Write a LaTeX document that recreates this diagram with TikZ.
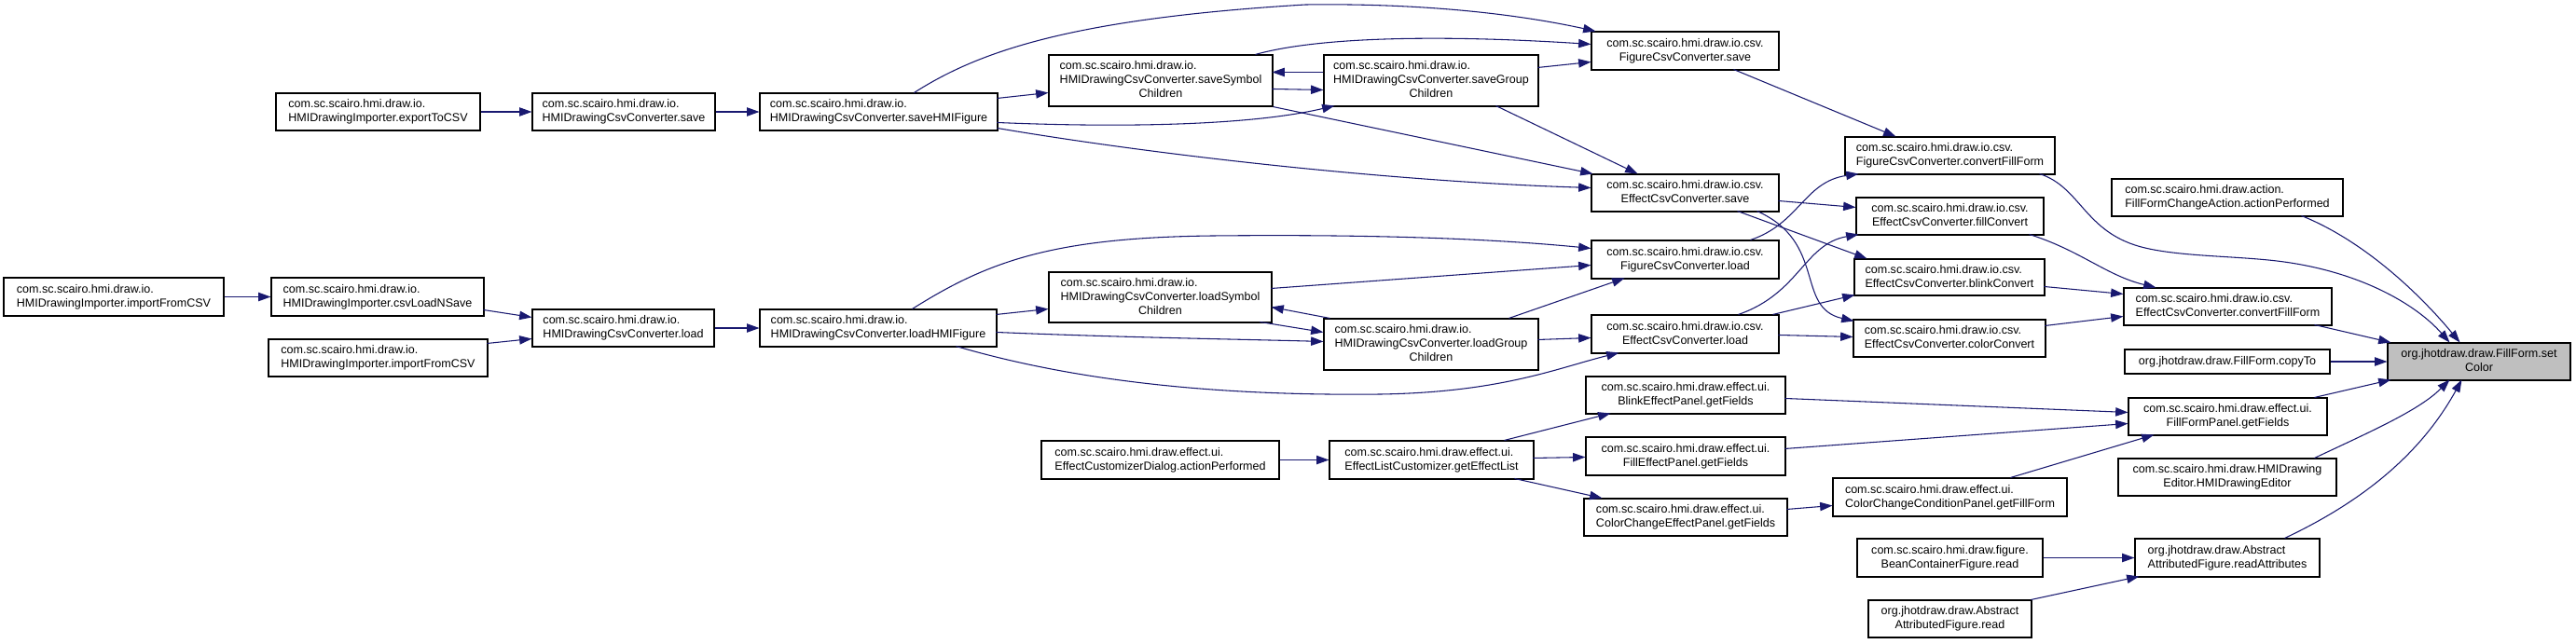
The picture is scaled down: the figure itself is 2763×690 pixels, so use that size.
\documentclass[tikz,border=0pt]{standalone}
\usepackage{fontspec}
\setmainfont{Liberation Sans}
\usetikzlibrary{arrows.meta}
\definecolor{edgeblue}{RGB}{25,25,112}
\definecolor{nodegray}{RGB}{191,191,191}
\newcommand\tl[2]{\begin{tabular}{@{}l@{}}#1\\\multicolumn{1}{@{}c@{}}{#2}\end{tabular}}
\newcommand\bx[7][]{\node[box,#1,minimum width={(#5-#3)*0.75pt},minimum height={(#6-#4)*0.75pt}] (#2) at ({(#3+#5)/2},{(#4+#6)/2}) {#7};}
\tikzset{
  box/.style={draw=black,line width=0.8pt,fill=white,rectangle,inner sep=0pt,
    font=\fontsize{9.4}{11.25}\selectfont},
  hilite/.style={fill=nodegray},
  cedge/.style={draw=edgeblue,line width=0.8pt,-{Triangle[length=10pt,width=7pt]}}
}
\begin{document}
\begin{tikzpicture}[x=0.75pt,y=-0.75pt]
\useasboundingbox[fill=white] (0,0) rectangle (2763,690);
% nodes
\bx{impA}{4}{298}{240}{339}{\tl{com.sc.scairo.hmi.draw.io.}{HMIDrawingImporter.importFromCSV}}
\bx{csvLoad}{291}{298}{519}{339}{\tl{com.sc.scairo.hmi.draw.io.}{HMIDrawingImporter.csvLoadNSave}}
\bx{impB}{288}{364}{523}{404}{\tl{com.sc.scairo.hmi.draw.io.}{HMIDrawingImporter.importFromCSV}}
\bx{export}{296}{100}{515}{140}{\tl{com.sc.scairo.hmi.draw.io.}{HMIDrawingImporter.exportToCSV}}
\bx{hsave}{571}{100}{767}{140}{\tl{com.sc.scairo.hmi.draw.io.}{HMIDrawingCsvConverter.save}}
\bx{hload}{571}{332}{766}{372}{\tl{com.sc.scairo.hmi.draw.io.}{HMIDrawingCsvConverter.load}}
\bx{saveHMI}{815}{100}{1070}{140}{\tl{com.sc.scairo.hmi.draw.io.}{HMIDrawingCsvConverter.saveHMIFigure}}
\bx{loadHMI}{815}{332}{1069}{372}{\tl{com.sc.scairo.hmi.draw.io.}{HMIDrawingCsvConverter.loadHMIFigure}}
\bx{saveSym}{1125}{59}{1365}{114}{\tl{com.sc.scairo.hmi.draw.io.\\HMIDrawingCsvConverter.saveSymbol}{Children}}
\bx{loadSym}{1125}{292}{1364}{346}{\tl{com.sc.scairo.hmi.draw.io.\\HMIDrawingCsvConverter.loadSymbol}{Children}}
\bx{saveGrp}{1420}{59}{1650}{114}{\tl{com.sc.scairo.hmi.draw.io.\\HMIDrawingCsvConverter.saveGroup}{Children}}
\bx{loadGrp}{1420}{342}{1650}{397}{\tl{com.sc.scairo.hmi.draw.io.\\HMIDrawingCsvConverter.loadGroup}{Children}}
\bx{figSave}{1707}{34}{1908}{75}{\tl{com.sc.scairo.hmi.draw.io.csv.}{FigureCsvConverter.save}}
\bx{effSave}{1707}{187}{1908}{227}{\tl{com.sc.scairo.hmi.draw.io.csv.}{EffectCsvConverter.save}}
\bx{figLoad}{1707}{258}{1908}{299}{\tl{com.sc.scairo.hmi.draw.io.csv.}{FigureCsvConverter.load}}
\bx{effLoad}{1707}{338}{1908}{379}{\tl{com.sc.scairo.hmi.draw.io.csv.}{EffectCsvConverter.load}}
\bx{figConv}{1979}{147}{2204}{187}{\tl{com.sc.scairo.hmi.draw.io.csv.}{FigureCsvConverter.convertFillForm}}
\bx{fillConv}{1991}{212}{2192}{252}{\tl{com.sc.scairo.hmi.draw.io.csv.}{EffectCsvConverter.fillConvert}}
\bx{blinkConv}{1989}{278}{2193}{317}{\tl{com.sc.scairo.hmi.draw.io.csv.}{EffectCsvConverter.blinkConvert}}
\bx{colorConv}{1988}{343}{2194}{383}{\tl{com.sc.scairo.hmi.draw.io.csv.}{EffectCsvConverter.colorConvert}}
\bx{effConv}{2278}{309}{2501}{349}{\tl{com.sc.scairo.hmi.draw.io.csv.}{EffectCsvConverter.convertFillForm}}
\bx{action}{2265}{192}{2513}{232}{\tl{com.sc.scairo.hmi.draw.action.}{FillFormChangeAction.actionPerformed}}
\bx{copyTo}{2279}{375}{2499}{401}{org.jhotdraw.draw.FillForm.copyTo}
\bx[hilite]{setColor}{2561}{368}{2757}{408}{\tl{org.jhotdraw.draw.FillForm.set}{Color}}
\bx{ffPanel}{2283}{427}{2496}{467}{\tl{com.sc.scairo.hmi.draw.effect.ui.}{FillFormPanel.getFields}}
\bx{editor}{2272}{492}{2506}{532}{\tl{com.sc.scairo.hmi.draw.HMIDrawing}{Editor.HMIDrawingEditor}}
\bx{readAttr}{2290}{578}{2488}{619}{\tl{org.jhotdraw.draw.Abstract}{AttributedFigure.readAttributes}}
\bx{beanRead}{1992}{578}{2191}{619}{\tl{com.sc.scairo.hmi.draw.figure.}{BeanContainerFigure.read}}
\bx{absRead}{2004}{644}{2179}{684}{\tl{org.jhotdraw.draw.Abstract}{AttributedFigure.read}}
\bx{ccCond}{1966}{513}{2217}{554}{\tl{com.sc.scairo.hmi.draw.effect.ui.}{ColorChangeConditionPanel.getFillForm}}
\bx{blinkPanel}{1701}{404}{1915}{444}{\tl{com.sc.scairo.hmi.draw.effect.ui.}{BlinkEffectPanel.getFields}}
\bx{fillPanel}{1701}{469}{1915}{510}{\tl{com.sc.scairo.hmi.draw.effect.ui.}{FillEffectPanel.getFields}}
\bx{ccPanel}{1699}{535}{1917}{575}{\tl{com.sc.scairo.hmi.draw.effect.ui.}{ColorChangeEffectPanel.getFields}}
\bx{getEff}{1426}{473}{1645}{514}{\tl{com.sc.scairo.hmi.draw.effect.ui.}{EffectListCustomizer.getEffectList}}
\bx{dialog}{1117}{473}{1372}{514}{\tl{com.sc.scairo.hmi.draw.effect.ui.}{EffectCustomizerDialog.actionPerformed}}
% edges
\draw[cedge] (impA.east) -- (csvLoad.west);
\draw[cedge] ([shift={(228,35)}]csvLoad.north west) -- ([shift={(0,9)}]hload.north west);
\draw[cedge] ([shift={(235,5)}]impB.north west) -- ([shift={(0,32)}]hload.north west);
\draw[cedge] (export.east) -- (hsave.west);
\draw[cedge] (hsave.east) -- (saveHMI.west);
\draw[cedge] (hload.east) -- (loadHMI.west);
\draw[cedge] ([shift={(255,6)}]saveHMI.north west) -- ([shift={(0,41)}]saveSym.north west);
\draw[cedge] ([shift={(166,0)}]saveHMI.north west) .. controls (1050,55) and (1150,20) .. (1400,5) .. controls (1550,3) and (1650,20) .. ([shift={(5,0)}]figSave.north west);
\draw[cedge] ([shift={(255,32)}]saveHMI.north west) .. controls (1200,137) and (1340,135) .. ([shift={(12,55)}]saveGrp.north west);
\draw[cedge] (saveSym.south east) -- ([shift={(2,0)}]effSave.north west);
\draw[cedge] ([shift={(255,38)}]saveHMI.north west) .. controls (1250,168) and (1500,195) .. ([shift={(0,15)}]effSave.north west);
\draw[cedge] ([shift={(222,0)}]saveSym.north west) .. controls (1420,38) and (1560,38) .. ([shift={(0,14)}]figSave.north west);
\draw[cedge] ([shift={(0,19)}]saveGrp.north west) -- ([shift={(240,19)}]saveSym.north west);
\draw[cedge] ([shift={(240,37)}]saveSym.north west) -- ([shift={(0,38)}]saveGrp.north west);
\draw[cedge] ([shift={(230,14)}]saveGrp.north west) -- ([shift={(0,33)}]figSave.north west);
\draw[cedge] ([shift={(185,55)}]saveGrp.north west) -- ([shift={(50,0)}]effSave.north west);
\draw[cedge] ([shift={(153,41)}]figSave.north west) -- ([shift={(55,0)}]figConv.north west);
\draw[cedge] ([shift={(201,29)}]effSave.north west) -- ([shift={(0,11)}]fillConv.north west);
\draw[cedge] ([shift={(157,40)}]effSave.north west) -- ([shift={(14,0)}]blinkConv.north west);
\draw[cedge] ([shift={(178,40)}]effSave.north west) .. controls (1960,260) and (1925,330) .. ([shift={(1,2)}]colorConv.north west);
\draw[cedge] ([shift={(171,0)}]figLoad.north west) .. controls (1930,240) and (1935,195) .. ([shift={(15,40)}]figConv.north west);
\draw[cedge] ([shift={(158,0)}]effLoad.north west) .. controls (1930,315) and (1935,262) .. ([shift={(3,40)}]fillConv.north west);
\draw[cedge] ([shift={(195,0)}]effLoad.north west) -- ([shift={(1,39)}]blinkConv.north west);
\draw[cedge] ([shift={(201,22)}]effLoad.north west) -- ([shift={(0,19)}]colorConv.north west);
\draw[cedge] ([shift={(164,0)}]loadHMI.north west) .. controls (1060,280) and (1130,255) .. (1300,253) .. controls (1500,251) and (1620,258) .. ([shift={(0,9)}]figLoad.north west);
\draw[cedge] ([shift={(239,18)}]loadSym.north west) -- ([shift={(0,27)}]figLoad.north west);
\draw[cedge] ([shift={(199,0)}]loadGrp.north west) -- ([shift={(36,41)}]figLoad.north west);
\draw[cedge] ([shift={(254,6)}]loadHMI.north west) -- ([shift={(0,40)}]loadSym.north west);
\draw[cedge] ([shift={(7,0)}]loadGrp.north west) -- ([shift={(239,38)}]loadSym.north west);
\draw[cedge] ([shift={(227,54)}]loadSym.north west) -- ([shift={(0,15)}]loadGrp.north west);
\draw[cedge] ([shift={(254,25)}]loadHMI.north west) .. controls (1200,362) and (1330,364) .. ([shift={(0,25)}]loadGrp.north west);
\draw[cedge] ([shift={(230,23)}]loadGrp.north west) -- ([shift={(0,25)}]effLoad.north west);
\draw[cedge] ([shift={(211,40)}]loadHMI.north west) .. controls (1150,408) and (1300,425) .. (1480,423) .. controls (1610,421) and (1670,395) .. ([shift={(30,41)}]effLoad.north west);
\draw[cedge] (dialog.east) -- (getEff.west);
\draw[cedge] ([shift={(188,0)}]getEff.north west) -- ([shift={(27,40)}]blinkPanel.north west);
\draw[cedge] ([shift={(219,19)}]getEff.north west) -- ([shift={(0,22)}]fillPanel.north west);
\draw[cedge] ([shift={(199,41)}]getEff.north west) -- ([shift={(20,0)}]ccPanel.north west);
\draw[cedge] ([shift={(218,12)}]ccPanel.north west) -- ([shift={(0,30)}]ccCond.north west);
\draw[cedge] ([shift={(214,24)}]blinkPanel.north west) -- ([shift={(0,16)}]ffPanel.north west);
\draw[cedge] ([shift={(214,13)}]fillPanel.north west) -- ([shift={(0,28)}]ffPanel.north west);
\draw[cedge] ([shift={(191,0)}]ccCond.north west) -- ([shift={(28,40)}]ffPanel.north west);
\draw[cedge] (beanRead.east) -- (readAttr.west);
\draw[cedge] ([shift={(175,0)}]absRead.north west) -- ([shift={(5,41)}]readAttr.north west);
\draw[cedge] ([shift={(161,0)}]readAttr.north west) .. controls (2530,540) and (2595,490) .. ([shift={(80,40)}]setColor.north west);
\draw[cedge] ([shift={(211,0)}]editor.north west) .. controls (2545,462) and (2595,440) .. ([shift={(67,40)}]setColor.north west);
\draw[cedge] ([shift={(200,0)}]ffPanel.north west) -- ([shift={(4,40)}]setColor.north west);
\draw[cedge] (copyTo.east) -- (setColor.west);
\draw[cedge] ([shift={(205,40)}]effConv.north west) -- ([shift={(4,0)}]setColor.north west);
\draw[cedge] ([shift={(204,40)}]action.north west) .. controls (2535,258) and (2595,315) .. ([shift={(78,0)}]setColor.north west);
\draw[cedge] ([shift={(209,40)}]figConv.north west) .. controls (2230,200) and (2235,245) .. (2290,263) .. controls (2330,276) and (2400,274) .. (2450,281) .. controls (2530,292) and (2590,325) .. ([shift={(67,0)}]setColor.north west);
\draw[cedge] ([shift={(186,40)}]fillConv.north west) .. controls (2230,268) and (2260,296) .. ([shift={(35,0)}]effConv.north west);
\draw[cedge] ([shift={(204,30)}]blinkConv.north west) -- ([shift={(0,7)}]effConv.north west);
\draw[cedge] ([shift={(206,7)}]colorConv.north west) -- ([shift={(0,31)}]effConv.north west);
\end{tikzpicture}
\end{document}
